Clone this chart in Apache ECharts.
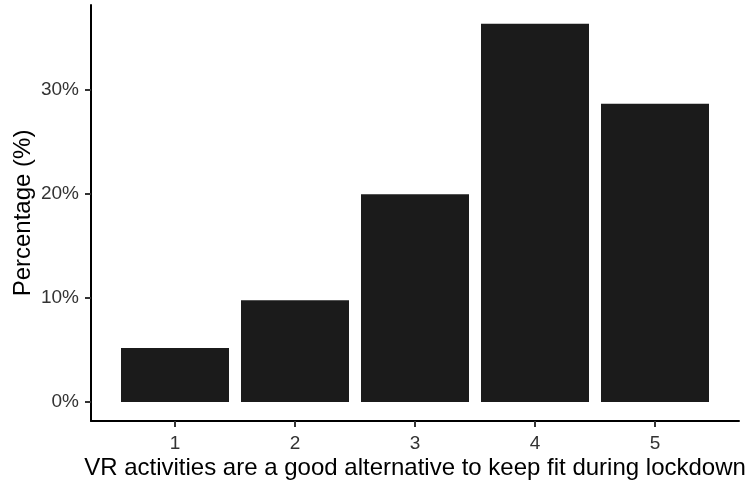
<!DOCTYPE html>
<html lang="en">
<head>
    <meta charset="UTF-8">
    <title>VR activities bar chart</title>
    <script src="https://cdn.jsdelivr.net/npm/echarts@6/dist/echarts.min.js"></script>
    <style>
        html, body { margin: 0; padding: 0; background: #fff; }
    </style>
</head>
<body>
    <div id="chart" style="width: 749px; height: 487px;"></div>
    <script>
        // Likert answers and the share of respondents for each
        var answers = [1, 2, 3, 4, 5];
        var percentages = [5.2, 9.8, 20.0, 36.4, 28.7];
        var yTicks = [0, 10, 20, 30];

        var chart = echarts.init(document.getElementById('chart'));

        var font = 'Liberation Sans, Arial, Helvetica, sans-serif';

        var option = {
            animation: false,
            grid: { left: 91, right: 10, top: 5, bottom: 66 },
            xAxis: {
                type: 'value',
                min: 0.3,
                max: 5.7,
                name: 'VR activities are a good alternative to keep fit during lockdown',
                nameLocation: 'middle',
                nameGap: 35,
                nameMoveOverlap: false,
                nameTextStyle: { color: '#000', fontSize: 24, fontFamily: font },
                axisLine: { show: true, onZero: false, lineStyle: { color: '#000', width: 2 } },
                axisTick: { show: true, customValues: answers, length: 6, lineStyle: { color: '#333', width: 2 } },
                axisLabel: { customValues: answers, margin: 13, color: '#333', fontSize: 19, fontFamily: font },
                splitLine: { show: false }
            },
            yAxis: {
                type: 'value',
                min: -1.82,
                max: 38.2,
                name: 'Percentage (%)',
                nameLocation: 'middle',
                nameGap: 56,
                nameMoveOverlap: false,
                nameTextStyle: { color: '#000', fontSize: 24, fontFamily: font },
                axisLine: { show: true, onZero: false, lineStyle: { color: '#000', width: 2 } },
                axisTick: { show: true, customValues: yTicks, length: 6, lineStyle: { color: '#333', width: 2 } },
                axisLabel: {
                    customValues: yTicks,
                    margin: 12,
                    color: '#333',
                    fontSize: 19,
                    fontFamily: font,
                    formatter: '{value}%'
                },
                splitLine: { show: false }
            },
            series: [{
                type: 'bar',
                barWidth: '90%',
                data: answers.map(function (a, i) { return [a, percentages[i]]; }),
                itemStyle: { color: '#1b1b1b' }
            }]
        };

        chart.setOption(option);
    </script>
</body>
</html>
